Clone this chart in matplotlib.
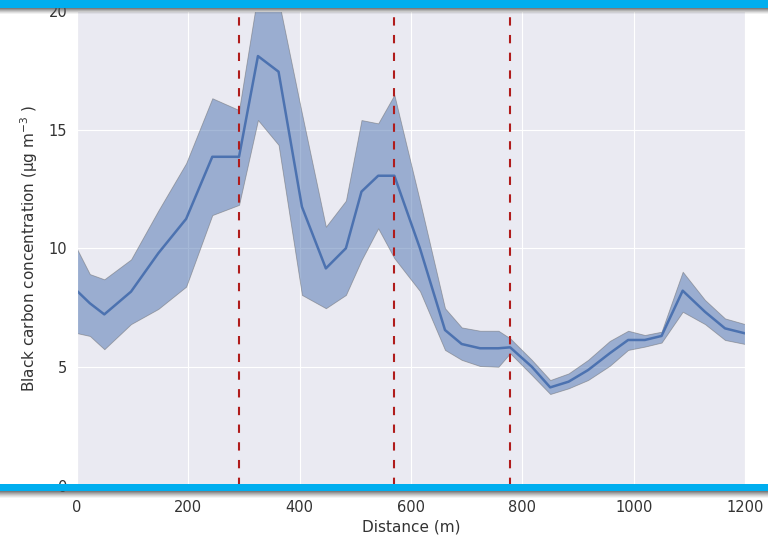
import numpy as np
import matplotlib
matplotlib.use('Agg')
import matplotlib.pyplot as plt
import seaborn as sns
from matplotlib.patches import Rectangle

sns.set_style('darkgrid')
plt.rcParams['font.family'] = ['DejaVu Sans']

# Distance along route (m) and black carbon statistics
distance = [0, 23, 49, 97, 146, 196, 243, 291, 325, 362, 404, 447, 483, 511,
            541, 570, 616, 661, 691, 724, 757, 778, 817, 850, 883, 918, 957,
            990, 1020, 1050, 1088, 1128, 1164, 1200]
bc_mean = [8.21, 7.69, 7.22, 8.18, 9.80, 11.25, 13.87, 13.87, 18.12, 17.46,
           11.76, 9.16, 10.01, 12.40, 13.07, 13.07, 10.01, 6.56, 5.97, 5.79,
           5.79, 5.83, 5.01, 4.14, 4.38, 4.87, 5.58, 6.14, 6.14, 6.31, 8.22,
           7.33, 6.63, 6.42]
bc_upper = [9.98, 8.92, 8.70, 9.54, 11.6, 13.6, 16.34, 15.84, 20.8, 20.5,
            15.7, 10.92, 12.02, 15.42, 15.28, 16.48, 12.0, 7.48, 6.67, 6.53,
            6.53, 6.21, 5.30, 4.45, 4.73, 5.30, 6.10, 6.53, 6.35, 6.49, 9.02,
            7.83, 7.05, 6.81]
bc_lower = [6.43, 6.31, 5.75, 6.81, 7.45, 8.39, 11.41, 11.84, 15.42, 14.37,
            8.04, 7.48, 8.04, 9.51, 10.85, 9.59, 8.2, 5.72, 5.30, 5.04, 5.01,
            5.58, 4.66, 3.86, 4.10, 4.45, 5.05, 5.72, 5.86, 6.03, 7.33, 6.81,
            6.14, 5.97]
# Section boundaries (m)
boundaries = [291, 570, 778]

fig = plt.figure(figsize=(7.68, 5.37), dpi=100)
ax = fig.add_axes([0.1003, 0.0959, 0.8698, 0.8827])

blue = '#4C72B0'
ax.fill_between(distance, bc_lower, bc_upper, color=blue, alpha=0.5,
                edgecolor='#666666', linewidth=0.6)
ax.plot(distance, bc_mean, color=blue, lw=1.8)

for b in boundaries:
    ax.axvline(b, color='#B01C1C', lw=1.5, dashes=(4, 4.5))

ax.set_xlim(0, 1200)
ax.set_ylim(0, 20)
ax.set_xticks(np.arange(0, 1201, 200))
ax.set_yticks([0, 5, 10, 15, 20])
ax.tick_params(labelsize=10.5, colors='#333333')
ax.tick_params(axis='x', pad=7)
ax.set_xlabel('Distance (m)', fontsize=11, color='#333333', labelpad=3)
ax.set_ylabel('Black carbon concentration (µg m$^{-3}$ )', fontsize=11,
              color='#333333', labelpad=6)

# Cyan frame bands with a soft shadow (drawn in figure pixels)
def band(y_top_px, h_px, shadow_px):
    H = 537.0
    for i in range(shadow_px):
        a = 0.75 * (1 - i / shadow_px) ** 1.3
        fig.add_artist(Rectangle((0, (H - y_top_px - h_px - i - 1) / H), 1, 1 / H,
                                 transform=fig.transFigure, color='#505050',
                                 alpha=a, lw=0, zorder=20))
    fig.add_artist(Rectangle((0, (H - y_top_px - h_px) / H), 1, h_px / H,
                             transform=fig.transFigure, color='#00AEEF',
                             lw=0, zorder=21))

band(0, 8, 6)
band(484, 7, 7)

fig.savefig('out.png', dpi=100)
